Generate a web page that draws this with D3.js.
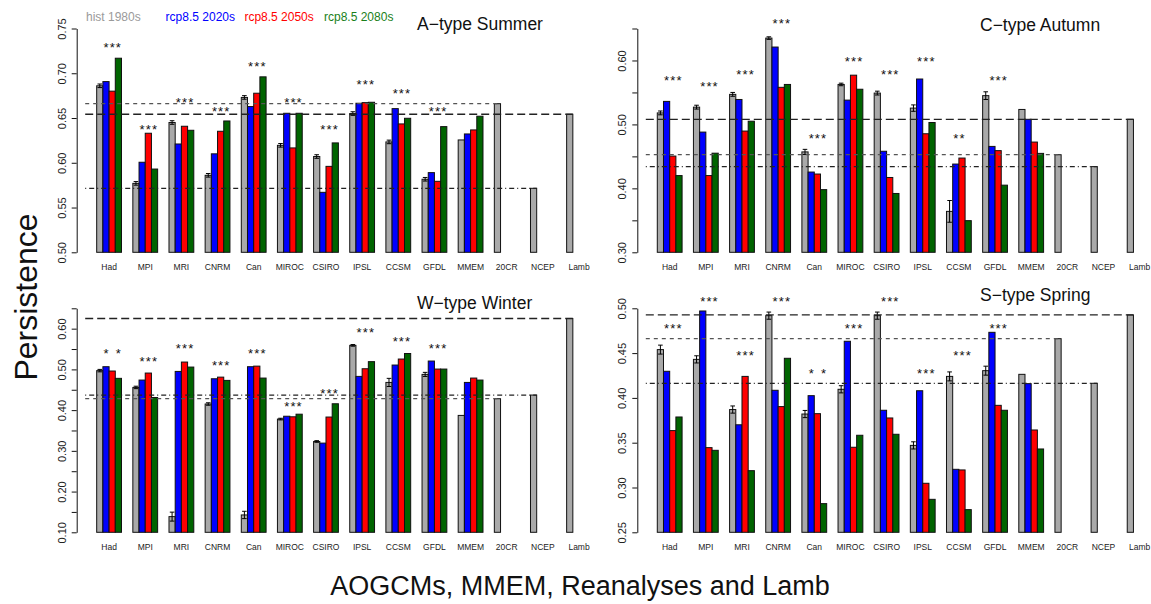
<!DOCTYPE html>
<html>
<head>
<meta charset="utf-8">
<script src="https://cdn.jsdelivr.net/npm/d3@7"></script>
<style>
  body { margin: 0; background: #fff; }
  svg text { font-family: "Liberation Sans", Arial, Helvetica, sans-serif; }
</style>
</head>
<body>
<div id="chartContainer"></div>
<script>
const models = ["Had", "MPI", "MRI", "CNRM", "Can", "MIROC", "CSIRO", "IPSL", "CCSM", "GFDL", "MMEM", "20CR", "NCEP", "Lamb"];
const periods = ["hist 1980s", "rcp8.5 2020s", "rcp8.5 2050s", "rcp8.5 2080s"];

// A-type Summer
const summerHist = [0.686, 0.577, 0.645, 0.586, 0.673, 0.6195, 0.607, 0.655, 0.6233, 0.5816, 0.6255, 0.666, 0.5715, 0.6542];
const summer2020s = [0.6907, 0.6006, 0.621, 0.610, 0.6628, 0.6553, 0.567, 0.6665, 0.6605, 0.589, 0.6322];
const summer2050s = [0.680, 0.633, 0.6408, 0.6352, 0.6777, 0.6166, 0.596, 0.6672, 0.6434, 0.5793, 0.6367];
const summer2080s = [0.7168, 0.593, 0.6363, 0.6467, 0.696, 0.6553, 0.6222, 0.6676, 0.6497, 0.6404, 0.652];
const summerErr = [0.002, 0.002, 0.002, 0.002, 0.002, 0.002, 0.002, 0.002, 0.002, 0.002];
const summerSig = ["***", "***", "***", "***", "***", "***", "***", "***", "***", "***"];
const summerStarY = [0.7317, 0.6408, 0.6706, 0.6605, 0.7108, 0.6706, 0.6408, 0.6907, 0.6806, 0.6605];

// C-type Autumn
const autumnHist = [0.518, 0.527, 0.547, 0.635, 0.457, 0.5625, 0.549, 0.5255, 0.364, 0.545, 0.5234, 0.4526, 0.434, 0.508];
const autumn2020s = [0.536, 0.488, 0.539, 0.621, 0.4255, 0.538, 0.458, 0.571, 0.438, 0.4656, 0.508];
const autumn2050s = [0.4505, 0.420, 0.4896, 0.558, 0.4224, 0.577, 0.417, 0.4854, 0.4474, 0.459, 0.4724];
const autumn2080s = [0.420, 0.455, 0.505, 0.5625, 0.398, 0.555, 0.392, 0.503, 0.3495, 0.405, 0.4547];
const autumnErr = [0.003, 0.003, 0.003, 0.002, 0.004, 0.002, 0.003, 0.005, 0.017, 0.006];
const autumnSig = ["***", "***", "***", "***", "***", "***", "***", "***", "** ", "***"];
const autumnStarY = [0.573, 0.5635, 0.583, 0.663, 0.483, 0.603, 0.583, 0.603, 0.483, 0.573];

// W-type Winter
const winterHist = [0.497, 0.4557, 0.1385, 0.415, 0.1426, 0.378, 0.323, 0.559, 0.468, 0.4877, 0.387, 0.428, 0.437, 0.625];
const winter2020s = [0.5066, 0.4738, 0.495, 0.477, 0.5066, 0.385, 0.319, 0.4828, 0.5107, 0.5205, 0.468];
const winter2050s = [0.496, 0.491, 0.518, 0.481, 0.508, 0.3836, 0.383, 0.5016, 0.5254, 0.5008, 0.4787];
const winter2080s = [0.478, 0.431, 0.5057, 0.473, 0.4787, 0.390, 0.4156, 0.519, 0.539, 0.5008, 0.4738];
const winterErr = [0.003, 0.003, 0.011, 0.003, 0.009, 0.002, 0.002, 0.002, 0.010, 0.005];
const winterSig = ["* *", "***", "***", "***", "***", "***", "***", "***", "***", "***"];
const winterStarY = [0.547, 0.527, 0.558, 0.518, 0.5475, 0.417, 0.4484, 0.5975, 0.577, 0.558];

// S-type Spring
const springHist = [0.4539, 0.443, 0.387, 0.4918, 0.382, 0.4096, 0.4918, 0.347, 0.424, 0.4304, 0.4263, 0.4661, 0.4163, 0.4926];
const spring2020s = [0.4297, 0.497, 0.370, 0.4085, 0.4025, 0.4632, 0.3862, 0.408, 0.3203, 0.4732, 0.4159];
const spring2050s = [0.3635, 0.3445, 0.424, 0.3903, 0.3824, 0.3449, 0.3776, 0.3047, 0.3196, 0.3917, 0.3642];
const spring2080s = [0.3787, 0.3415, 0.3188, 0.4442, 0.282, 0.3583, 0.3594, 0.2868, 0.2753, 0.3862, 0.343];
const springErr = [0.005, 0.004, 0.004, 0.004, 0.004, 0.004, 0.004, 0.004, 0.005, 0.005];
const springSig = ["***", "***", "***", "***", "* *", "***", "***", "***", "***", "***"];
const springStarY = [0.481, 0.511, 0.4505, 0.511, 0.4304, 0.481, 0.511, 0.4304, 0.4505, 0.481];

// y axis ticks (all ticks, and the ones that carry a label)
const summerTicks = [0.50, 0.55, 0.60, 0.65, 0.70, 0.75];
const summerLabels = [0.50, 0.55, 0.60, 0.65, 0.70, 0.75];
const autumnTicks = [0.30, 0.35, 0.40, 0.45, 0.50, 0.55, 0.60, 0.65];
const autumnLabels = [0.30, 0.40, 0.50, 0.60];
const winterTicks = [0.10, 0.15, 0.20, 0.25, 0.30, 0.35, 0.40, 0.45, 0.50, 0.55, 0.60, 0.65];
const winterLabels = [0.10, 0.20, 0.30, 0.40, 0.50, 0.60];
const springTicks = [0.25, 0.30, 0.35, 0.40, 0.45, 0.50];
const springLabels = [0.25, 0.30, 0.35, 0.40, 0.45, 0.50];

const barColors = ["#a9a9a9", "#0000ff", "#ff0000", "#006400"];
const legendColors = ["#9a9a9a", "#0000ff", "#ff0000", "#1a7f1a"];

const panels = [
  { title: "A\u2212type Summer", series: [summerHist, summer2020s, summer2050s, summer2080s], err: summerErr, sig: summerSig, starY: summerStarY, ticks: summerTicks, labels: summerLabels, col: 0, row: 0, titleY: 30 },
  { title: "C\u2212type Autumn", series: [autumnHist, autumn2020s, autumn2050s, autumn2080s], err: autumnErr, sig: autumnSig, starY: autumnStarY, ticks: autumnTicks, labels: autumnLabels, col: 1, row: 0, titleY: 31 },
  { title: "W\u2212type Winter", series: [winterHist, winter2020s, winter2050s, winter2080s], err: winterErr, sig: winterSig, starY: winterStarY, ticks: winterTicks, labels: winterLabels, col: 0, row: 1, titleY: 309 },
  { title: "S\u2212type Spring", series: [springHist, spring2020s, spring2050s, spring2080s], err: springErr, sig: springSig, starY: springStarY, ticks: springTicks, labels: springLabels, col: 1, row: 1, titleY: 301 }
];

const width = 1151, height = 604;
const axisX = [76.7, 637.3];
const rowRange = [[252.3, 28.5], [532.3, 308.3]];
const titleX = [417, 980];
const step = 36.15, padIn = 0.314, padOut = 0.553;

const svg = d3.select("#chartContainer")
  .append("svg")
  .attr("width", width)
  .attr("height", height);

svg.append("rect").attr("width", width).attr("height", height).attr("fill", "#fff");

function drawPanel(p) {
  const ax = axisX[p.col];
  const g = svg.append("g");

  const x = d3.scaleBand()
    .domain(models)
    .range([ax, ax + step * (models.length - padIn + 2 * padOut)])
    .paddingInner(padIn)
    .paddingOuter(padOut);
  const xs = d3.scaleBand().domain(periods).range([0, x.bandwidth()]);
  const y = d3.scaleLinear()
    .domain([p.ticks[0], p.ticks[p.ticks.length - 1]])
    .range(rowRange[p.row]);
  const y0 = y.range()[0];

  // bars
  const bars = [];
  models.forEach((m, i) => {
    periods.forEach((per, j) => {
      const v = p.series[j][i];
      if (v != null) bars.push({ model: m, period: per, value: v, color: barColors[j] });
    });
  });

  g.selectAll("rect.bar")
    .data(bars)
    .enter()
    .append("rect")
    .attr("class", "bar")
    .attr("x", d => x(d.model) + xs(d.period))
    .attr("y", d => y(d.value))
    .attr("width", xs.bandwidth())
    .attr("height", d => y0 - y(d.value))
    .attr("fill", d => d.color)
    .attr("stroke", "#111")
    .attr("stroke-width", 1);

  // error bars on the historical runs
  const errs = p.err.map((e, i) => ({ model: models[i], value: p.series[0][i], e: e }));
  const eg = g.selectAll("g.err")
    .data(errs)
    .enter()
    .append("g")
    .attr("class", "err")
    .attr("stroke", "#000")
    .attr("stroke-width", 1);
  const cx = d => x(d.model) + xs(periods[0]) + xs.bandwidth() / 2;
  eg.append("line")
    .attr("x1", cx).attr("x2", cx)
    .attr("y1", d => y(d.value - d.e)).attr("y2", d => y(d.value + d.e));
  eg.append("line")
    .attr("x1", d => cx(d) - 2.3).attr("x2", d => cx(d) + 2.3)
    .attr("y1", d => y(d.value + d.e)).attr("y2", d => y(d.value + d.e));
  eg.append("line")
    .attr("x1", d => cx(d) - 2.3).attr("x2", d => cx(d) + 2.3)
    .attr("y1", d => y(d.value - d.e)).attr("y2", d => y(d.value - d.e));

  // reference lines from the reanalyses and Lamb
  const refs = [
    { model: "20CR", dash: "4,4", color: "#555" },
    { model: "NCEP", dash: "1,3,5,3", color: "#222" },
    { model: "Lamb", dash: "8,4", color: "#222" }
  ];
  g.selectAll("line.ref")
    .data(refs)
    .enter()
    .append("line")
    .attr("class", "ref")
    .attr("x1", ax + 8.5)
    .attr("x2", d => x(d.model) + xs(periods[0]) + xs.bandwidth())
    .attr("y1", d => y(p.series[0][models.indexOf(d.model)]))
    .attr("y2", d => y(p.series[0][models.indexOf(d.model)]))
    .attr("stroke", d => d.color)
    .attr("stroke-width", 1.3)
    .attr("stroke-dasharray", d => d.dash);

  // significance stars, one per future period
  const stars = [];
  p.sig.forEach((s, i) => {
    s.split("").forEach((c, j) => {
      if (c === "*") stars.push({ model: models[i], period: periods[j + 1], y: p.starY[i] });
    });
  });
  g.selectAll("text.star")
    .data(stars)
    .enter()
    .append("text")
    .attr("class", "star")
    .attr("x", d => x(d.model) + xs(d.period) + xs.bandwidth() / 2)
    .attr("y", d => y(d.y) + 7.5)
    .attr("text-anchor", "middle")
    .attr("font-size", "13px")
    .attr("fill", "#111")
    .text("*");

  // y axis
  const yAxis = g.append("g")
    .attr("transform", `translate(${ax}, 0)`)
    .call(d3.axisLeft(y)
      .tickValues(p.ticks)
      .tickSize(5)
      .tickSizeOuter(0)
      .tickFormat(d => p.labels.some(l => Math.abs(l - d) < 1e-9) ? d3.format(".2f")(d) : ""));
  yAxis.select(".domain").attr("stroke", "#111");
  yAxis.selectAll(".tick line").attr("stroke", "#111");
  yAxis.selectAll(".tick text")
    .attr("transform", "rotate(-90)")
    .attr("x", 0)
    .attr("y", -11)
    .attr("dy", 0)
    .attr("text-anchor", "middle")
    .attr("font-size", "11px")
    .attr("font-family", "Liberation Sans, Arial, sans-serif")
    .attr("fill", "#222");

  // category names
  g.selectAll("text.cat")
    .data(models)
    .enter()
    .append("text")
    .attr("class", "cat")
    .attr("x", d => x(d) + x.bandwidth() / 2)
    .attr("y", y0 + 17.5)
    .attr("text-anchor", "middle")
    .attr("font-size", "8.5px")
    .attr("fill", "#222")
    .text(d => d);

  g.append("text")
    .attr("x", titleX[p.col])
    .attr("y", p.titleY)
    .attr("font-size", "17.5px")
    .attr("fill", "#111")
    .text(p.title);
}

panels.forEach(drawPanel);

// legend at the top
const legendX = [86, 165.6, 244.4, 324];
svg.selectAll("text.legend")
  .data(periods)
  .enter()
  .append("text")
  .attr("class", "legend")
  .attr("x", (d, i) => legendX[i])
  .attr("y", 21)
  .attr("font-size", "12px")
  .attr("fill", (d, i) => legendColors[i])
  .text(d => d);

svg.append("text")
  .attr("transform", "translate(37, 297) rotate(-90)")
  .attr("text-anchor", "middle")
  .attr("font-size", "32px")
  .attr("fill", "#111")
  .text("Persistence");

svg.append("text")
  .attr("x", 580)
  .attr("y", 595)
  .attr("text-anchor", "middle")
  .attr("font-size", "27px")
  .attr("fill", "#111")
  .text("AOGCMs, MMEM, Reanalyses and Lamb");
</script>
</body>
</html>
